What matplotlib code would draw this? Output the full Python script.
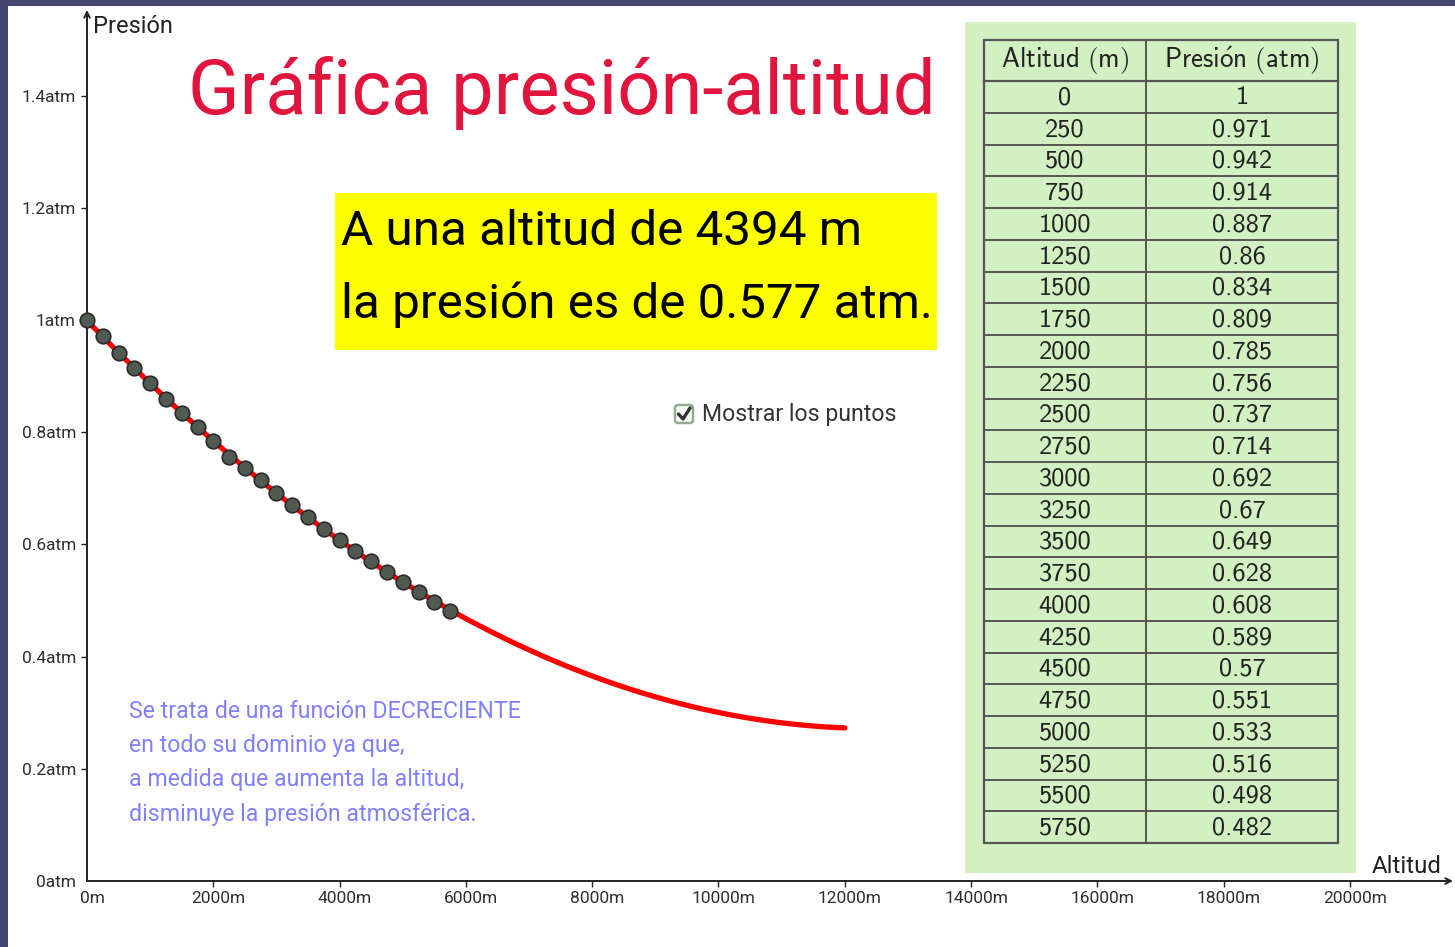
import numpy as np
import matplotlib
matplotlib.use("Agg")
import matplotlib.pyplot as plt
import matplotlib.transforms as mtransforms
from matplotlib.patches import Rectangle, FancyBboxPatch

# tabla altitud / presion
altitud = [0, 250, 500, 750, 1000, 1250, 1500, 1750, 2000, 2250, 2500, 2750,
           3000, 3250, 3500, 3750, 4000, 4250, 4500, 4750, 5000, 5250, 5500, 5750]
presion = [1, 0.971, 0.942, 0.914, 0.887, 0.86, 0.834, 0.809, 0.785, 0.756, 0.737, 0.714,
           0.692, 0.67, 0.649, 0.628, 0.608, 0.589, 0.57, 0.551, 0.533, 0.516, 0.498, 0.482]
presion_txt = ["1", "0.971", "0.942", "0.914", "0.887", "0.86", "0.834", "0.809", "0.785",
               "0.756", "0.737", "0.714", "0.692", "0.67", "0.649", "0.628", "0.608",
               "0.589", "0.57", "0.551", "0.533", "0.516", "0.498", "0.482"]
x_fin_curva = 12000
altitud_sel = 4394
presion_sel = "0.577"

xticks = [0, 2000, 4000, 6000, 8000, 10000, 12000, 14000, 16000, 18000, 20000]
yticks = [0, 0.2, 0.4, 0.6, 0.8, 1.0, 1.2, 1.4]
ylabels = ["0atm", "0.2atm", "0.4atm", "0.6atm", "0.8atm", "1atm", "1.2atm", "1.4atm"]

plt.rcParams['font.family'] = ['Roboto', 'DejaVu Sans']
plt.rcParams['mathtext.fontset'] = 'cm'

W, H = 1455, 947
fig = plt.figure(figsize=(W / 100, H / 100), dpi=100, facecolor="#45456e")

# pixel mapping of the graph: origin at (87, 881)
sx = 126.3 / 2000.0
sy = 561.0
ox, oy = 87, 881
ax = fig.add_axes([8 / W, 0, (W - 8) / W, (H - 6) / H], facecolor="white")
ax.set_xlim((8 - ox) / sx, (W - ox) / sx)
ax.set_ylim((oy - H) / sy, (oy - 6) / sy)
for s in ["top", "right"]:
    ax.spines[s].set_visible(False)
# ticks follow the spines placed at the origin, the lines themselves are drawn below
ax.spines["left"].set_position(("data", 0))
ax.spines["bottom"].set_position(("data", 0))
ax.spines["left"].set_color("none")
ax.spines["bottom"].set_color("none")

# axes with arrows
ax.annotate("", xy=(0, (oy - 10) / sy), xytext=(0, 0),
            arrowprops=dict(arrowstyle="->", lw=1.4, color="#222222", shrinkA=0, shrinkB=0))
ax.annotate("", xy=((1453 - ox) / sx, 0), xytext=(0, 0),
            arrowprops=dict(arrowstyle="->", lw=1.4, color="#222222", shrinkA=0, shrinkB=0))

ax.set_xticks(xticks)
ax.set_xticklabels([f"{v}m" for v in xticks])
ax.set_yticks(yticks)
ax.set_yticklabels(ylabels)
ax.tick_params(axis="both", direction="out", length=4, width=1, color="#222222",
               labelsize=12.5, labelcolor="#2e2e2e")
ax.tick_params(axis="x", pad=3)
ax.tick_params(axis="y", pad=4)
ax.xaxis.get_major_ticks()[0].tick1line.set_visible(False)
ax.yaxis.get_major_ticks()[0].tick1line.set_visible(False)
shift = mtransforms.ScaledTranslation(5 / 100, 0, fig.dpi_scale_trans)
for lb in ax.get_xticklabels():
    lb.set_transform(lb.get_transform() + shift)

# curva de ajuste (regresion cuadratica de la tabla)
coef = np.polyfit(altitud, presion, 2)
xc = np.linspace(0, x_fin_curva, 300)
ax.plot(xc, np.polyval(coef, xc), color="#ff0000", lw=3.8, solid_capstyle="round", zorder=3)
ax.plot(altitud, presion, "o", ms=10.5, mfc="#505a50", mec="#2a2a2a", mew=1.2, zorder=4)

ax.text(6 / sx, (oy - 26) / sy, "Presión", fontsize=17, color="#222222", va="center")
ax.text((1442 - ox) / sx, (oy - 866) / sy, "Altitud", fontsize=17.3, color="#222222",
        va="center", ha="right")

# overlay in pixel coordinates for the annotations
ov = fig.add_axes([0, 0, 1, 1], facecolor="none")
ov.set_xlim(0, W)
ov.set_ylim(H, 0)
ov.axis("off")

ov.text(188, 93, "Gráfica presión-altitud", fontsize=54.6, color="#e0143c",
        va="center", ha="left")

ov.add_patch(Rectangle((335, 193), 602, 157, facecolor="#ffff00", edgecolor="none"))
ov.text(341, 232, f"A una altitud de {altitud_sel} m", fontsize=35.6, color="black",
        va="center", ha="left")
ov.text(341, 305, f"la presión es de {presion_sel} atm.", fontsize=35.6, color="black",
        va="center", ha="left")

# checkbox
ov.add_patch(FancyBboxPatch((675, 405), 18, 18, boxstyle="round,pad=0,rounding_size=3",
                            facecolor="white", edgecolor="#8fae8f", lw=1.8))
ov.plot([678.5, 683, 690], [414, 419, 408], color="#333333", lw=2.4,
        solid_capstyle="round", solid_joinstyle="round")
ov.text(702, 414, "Mostrar los puntos", fontsize=16.6, color="#333333", va="center", ha="left")

azul = "#8080ff"
lineas = ["Se trata de una función DECRECIENTE", "en todo su dominio ya que,",
          "a medida que aumenta la altitud,", "disminuye la presión atmosférica."]
for i, t in enumerate(lineas):
    ov.text(129, 711 + i * 34.4, t, fontsize=16.7, color=azul, va="center", ha="left")

# tabla
ov.add_patch(Rectangle((965, 22), 391, 851, facecolor="#d2f0c2", edgecolor="none"))
tx0, tx1, tx2 = 984, 1146, 1338
ty0, ty1 = 40, 81
rh = 31.75
tf = ['cmss10', 'DejaVu Sans']
fs_t = 19
lc = "#555555"
ny = len(altitud)
ty_end = ty1 + ny * rh
ov.add_patch(Rectangle((tx0, ty0), tx2 - tx0, ty_end - ty0, facecolor="none",
                       edgecolor=lc, lw=1.6))
ov.plot([tx1, tx1], [ty0, ty_end], color=lc, lw=1.4)
ov.plot([tx0, tx2], [ty1, ty1], color=lc, lw=1.6)
ov.text((tx0 + tx1) / 2, (ty0 + ty1) / 2, r"$\mathsf{Altitud\ (m)}$", fontsize=fs_t + 0.5,
        color="#222222", ha="center", va="center")
ov.text((tx1 + tx2) / 2, (ty0 + ty1) / 2, r"$\mathsf{Presi\acute{o}n\ (atm)}$", fontsize=fs_t + 0.5,
        color="#222222", ha="center", va="center")
for i in range(ny):
    yc = ty1 + (i + 0.5) * rh
    if i > 0:
        ov.plot([tx0, tx2], [ty1 + i * rh, ty1 + i * rh], color=lc, lw=1.4)
    ov.text((tx0 + tx1) / 2, yc + 1, str(altitud[i]), family=tf, fontsize=fs_t,
            color="#222222", ha="center", va="center")
    ov.text((tx1 + tx2) / 2, yc + 1, presion_txt[i], family=tf, fontsize=fs_t,
            color="#222222", ha="center", va="center")

fig.savefig("out.png", dpi=100, facecolor=fig.get_facecolor())
